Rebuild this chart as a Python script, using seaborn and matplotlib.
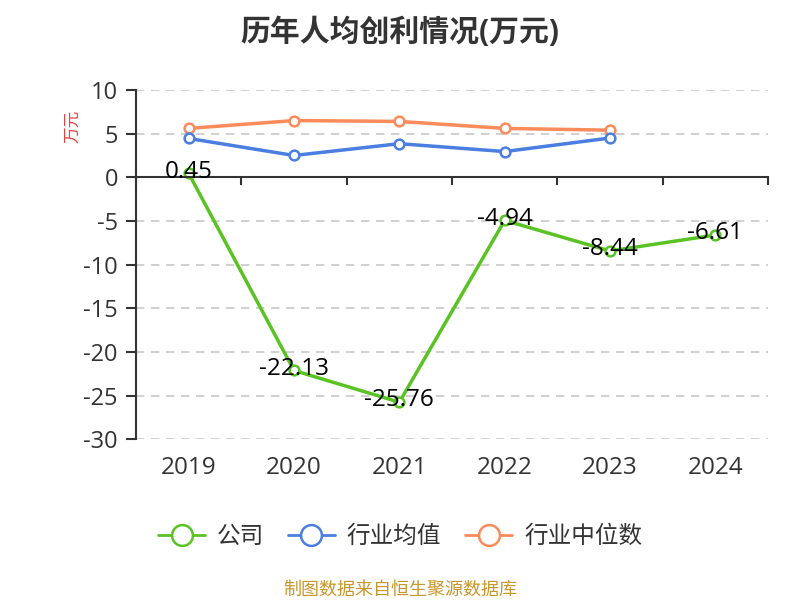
import numpy as np
import pandas as pd
import matplotlib.pyplot as plt
import seaborn as sns

years = ['2019', '2020', '2021', '2022', '2023', '2024']
company = [0.45, -22.13, -25.76, -4.94, -8.44, -6.61]
industry_avg = [4.45, 2.5, 3.85, 2.95, 4.5, np.nan]
industry_median = [5.6, 6.5, 6.4, 5.6, 5.4, np.nan]
series_names = ['公司', '行业均值', '行业中位数']
colors = ['#58c322', '#4a7ee0', '#fb8b5a']

sns.set_style('white')
plt.rcParams['font.family'] = ['Open Sans', 'Noto Sans CJK SC', 'DejaVu Sans']
plt.rcParams['axes.unicode_minus'] = False

df = pd.DataFrame({
    'pos': list(range(len(years))) * 3,
    'value': company + industry_avg + industry_median,
    'series': np.repeat(series_names, len(years)),
})

fig = plt.figure(figsize=(8, 6), dpi=100)
ax = fig.add_axes([0.17, 0.268, 0.79, 0.582])

# medians/averages first, company on top
for name, col in zip(series_names[::-1], colors[::-1]):
    sub = df[df.series == name].dropna()
    sns.lineplot(data=sub, x='pos', y='value', ax=ax, color=col, lw=2.5,
                 marker='o', markersize=7, markerfacecolor='white',
                 markeredgecolor=col, markeredgewidth=1.8, label=name,
                 legend=False)

for i, v in enumerate(company):
    ax.text(i, v + 0.2, f'{v:.2f}', ha='center', va='center', fontsize=17.5,
            color='black', zorder=5)

ax.set_xlim(-0.5, len(years) - 0.5)
ax.set_ylim(-30, 10)
ax.set_yticks(np.arange(-30, 11, 5))
ax.yaxis.grid(True, ls=(0, (5, 4)), color='#c8c8c8', lw=1.2)
ax.set_axisbelow(True)
for s in ['top', 'right']:
    ax.spines[s].set_visible(False)
ax.spines['left'].set_color('#333333')
ax.spines['left'].set_linewidth(1.5)
ax.spines['bottom'].set_position(('data', 0))
ax.spines['bottom'].set_color('#333333')
ax.spines['bottom'].set_linewidth(1.5)
ax.set_xticks(np.arange(-0.5, len(years), 1))
ax.tick_params(axis='x', bottom=True, length=6, width=1.5, color='#333333',
               labelbottom=False)
ax.tick_params(axis='y', left=True, length=7, width=1.5, color='#333333',
               labelsize=17, labelcolor='#333333', pad=6)
ax.set_xlabel('')
ax.set_ylabel('')

sec = ax.secondary_xaxis(0)
sec.set_xticks(range(len(years)))
sec.set_xticklabels(years)
sec.tick_params(length=0, labelsize=17.5, labelcolor='#333333', pad=12)
sec.spines['bottom'].set_visible(False)

fig.text(0.092, 0.79, '万元', rotation=90, color='#e84040', fontsize=12,
         ha='center', va='center')
fig.suptitle('历年人均创利情况(万元)', x=0.5, y=0.97, fontsize=21.5,
             fontweight='bold', color='#333333')

handles, labels = ax.get_legend_handles_labels()
order = [labels.index(n) for n in series_names]
leg = fig.legend([handles[i] for i in order], [labels[i] for i in order],
                 loc='center', bbox_to_anchor=(0.5, 0.105), ncol=3,
                 frameon=False, fontsize=17, handlelength=2.0,
                 columnspacing=1.0, handletextpad=0.5)
for h in leg.legend_handles:
    h.set_markersize(15)
    h.set_linewidth(2)
for t in leg.get_texts():
    t.set_color('#333333')

fig.text(0.5, 0.017, '制图数据来自恒生聚源数据库', ha='center', va='center',
         fontsize=13, color='#c8962a')

fig.savefig('out.png', dpi=100)
